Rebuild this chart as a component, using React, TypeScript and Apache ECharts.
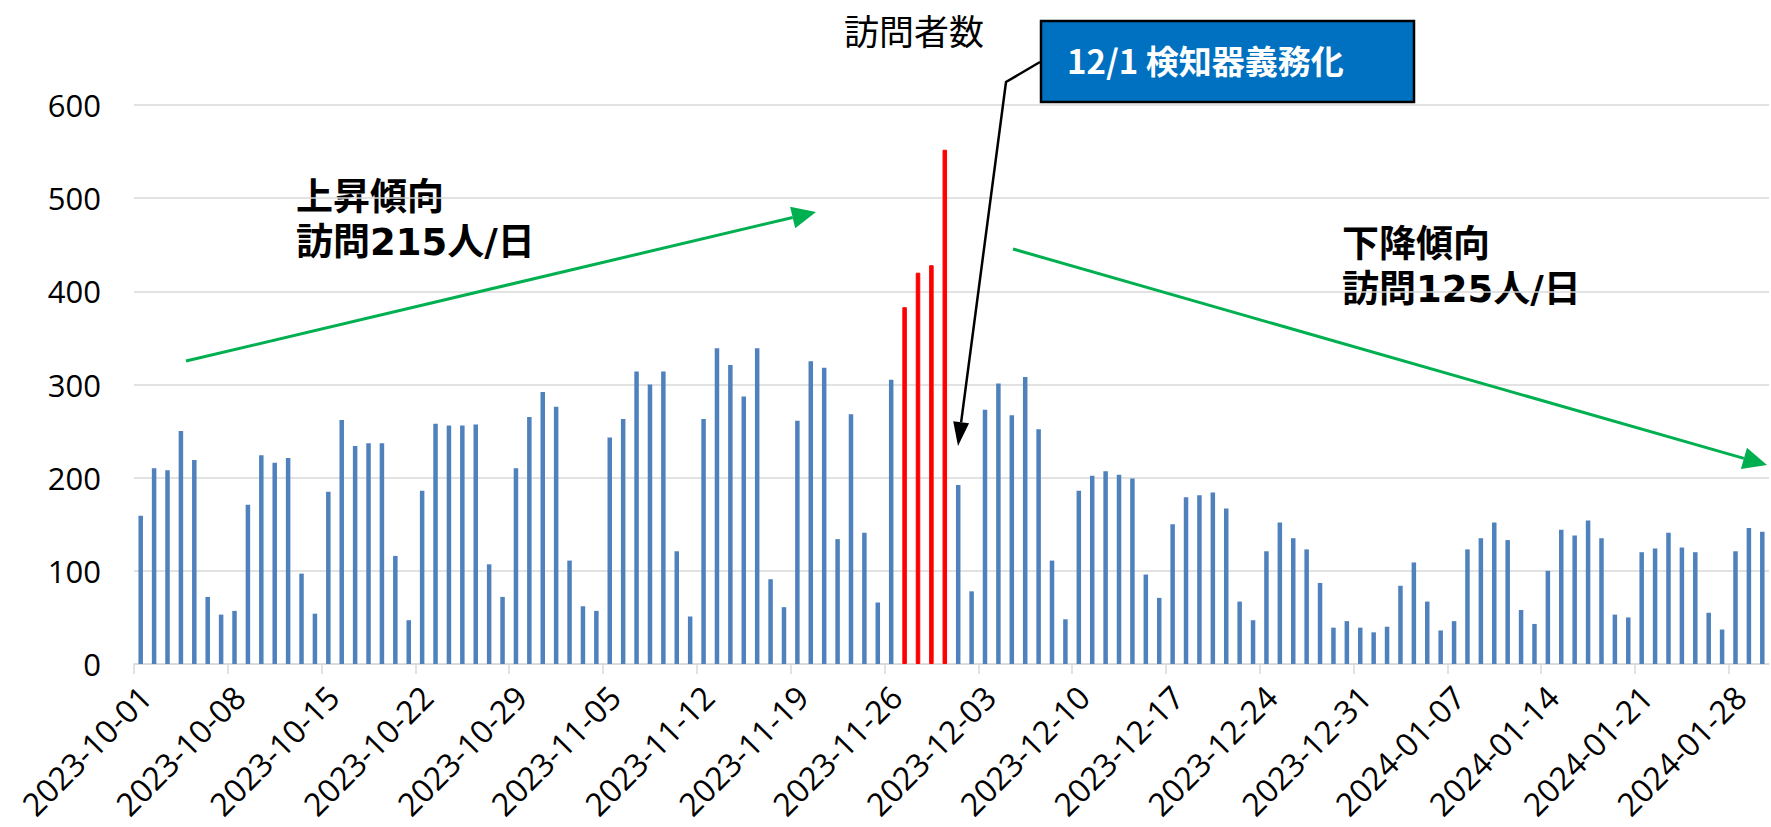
import React, { useEffect, useRef } from "react";
import * as echarts from "echarts";

const startDate = "2023-10-01";
const visitors = [
  159, 210, 208, 250, 219, 72, 53, 57, 171, 224, 216, 221, 97, 54, 185, 262, 234, 237, 237, 116,
  47, 186, 258, 256, 256, 257, 107, 72, 210, 265, 292, 276, 111, 62, 57, 243, 263, 314, 300, 314,
  121, 51, 263, 339, 321, 287, 339, 91, 61, 261, 325, 318, 134, 268, 141, 66, 305, 383, 420, 428,
  552, 192, 78, 273, 301, 267, 308, 252, 111, 48, 186, 202, 207, 203, 199, 96, 71, 150, 179, 181,
  184, 167, 67, 47, 121, 152, 135, 123, 87, 39, 46, 39, 34, 40, 84, 109, 67, 36, 46, 123,
  135, 152, 133, 58, 43, 100, 144, 138, 154, 135, 53, 50, 120, 124, 141, 125, 120, 55, 37, 121,
  146, 142,
];
const highlightDates = ["2023-11-27", "2023-11-28", "2023-11-29", "2023-11-30"];
const yTicks = [0, 100, 200, 300, 400, 500, 600];
const titleText = "訪問者数";
const calloutText = "12/1 検知器義務化";
const upText = "上昇傾向\n訪問215人/日";
const downText = "下降傾向\n訪問125人/日";

const DAY = 86400000;
const start = Date.parse(startDate + "T00:00:00Z");
const dates = visitors.map((_, i) => new Date(start + i * DAY).toISOString().slice(0, 10));

const MIXED_BOLD = "'DejaVu Sans', 'Noto Sans CJK JP', sans-serif";

function arrowHead(sx: number, sy: number, tx: number, ty: number, L: number, W: number) {
  const dx = tx - sx, dy = ty - sy;
  const len = Math.sqrt(dx * dx + dy * dy);
  const ux = dx / len, uy = dy / len;
  const nx = -uy, ny = ux;
  const bx = tx - ux * L, by = ty - uy * L;
  return {
    base: [bx, by],
    points: [
      [tx, ty],
      [bx + (nx * W) / 2, by + (ny * W) / 2],
      [bx - (nx * W) / 2, by - (ny * W) / 2],
    ],
  };
}

function arrow(sx: number, sy: number, tx: number, ty: number, color: string, lw: number, L: number, W: number) {
  const h = arrowHead(sx, sy, tx, ty, L, W);
  return [
    { type: "line", shape: { x1: sx, y1: sy, x2: h.base[0], y2: h.base[1] }, style: { stroke: color, lineWidth: lw }, z: 10 },
    { type: "polygon", shape: { points: h.points }, style: { fill: color }, z: 10 },
  ];
}

export default function App() {
  const ref = useRef<HTMLDivElement>(null);
  useEffect(() => {
    if (!ref.current) return;
    const chart = echarts.init(ref.current, undefined, { renderer: "svg" });
    const n = visitors.length;
    const blackHead = arrowHead(1006, 82, 958, 446, 24, 16);
    chart.setOption({
      animation: false,
      backgroundColor: "#ffffff",
      grid: { left: 134, right: 2, top: 105, bottom: 163, containLabel: false },
      xAxis: {
        type: "value",
        min: 0,
        max: n,
        interval: 7,
        axisLine: { show: true, lineStyle: { color: "#D9D9D9", width: 1.5 } },
        axisTick: { show: true, length: 10, lineStyle: { color: "#D9D9D9", width: 1.5 } },
        splitLine: { show: false },
        axisLabel: {
          rotate: 45,
          margin: 16,
          align: "right",
          verticalAlign: "top",
          showMaxLabel: false,
          fontFamily: "Open Sans",
          fontSize: 32,
          color: "#000000",
          formatter: (v: number) => (v % 7 === 0 && v < n ? dates[v] : ""),
        },
      },
      yAxis: {
        type: "value",
        min: yTicks[0],
        max: yTicks[yTicks.length - 1],
        interval: 100,
        axisLine: { show: false },
        axisTick: { show: false },
        splitLine: { lineStyle: { color: "#D9D9D9", width: 1.5 } },
        axisLabel: { margin: 33, fontFamily: "Open Sans", fontSize: 31, color: "#000000" },
      },
      series: [
        {
          type: "bar",
          barWidth: 4.5,
          data: visitors.map((v, i) => {
            const hi = highlightDates.includes(dates[i]);
            return {
              value: [i + 0.5, v],
              itemStyle: hi
                ? { color: "#FF0000", borderColor: "#FF0000", borderWidth: 1 }
                : { color: "#4F81BD" },
            };
          }),
        },
      ],
      graphic: [
        {
          type: "text",
          x: 914,
          y: 29,
          style: { text: titleText, fontFamily: "Noto Sans CJK JP", fontSize: 35, fill: "#000", align: "center", verticalAlign: "middle" },
        },
        {
          type: "rect",
          shape: { x: 1041, y: 21, width: 373, height: 81 },
          style: { fill: "#0070C0", stroke: "#000000", lineWidth: 2.5 },
          z: 20,
        },
        {
          type: "text",
          x: 1067,
          y: 60,
          z: 21,
          style: { text: calloutText, fontFamily: "Noto Sans CJK JP", fontWeight: "bold", fontSize: 33, fill: "#ffffff", align: "left", verticalAlign: "middle" },
        },
        {
          type: "polyline",
          shape: { points: [[1040, 62], [1006, 82], blackHead.base] },
          style: { stroke: "#000000", lineWidth: 2.5, fill: null },
          z: 15,
        },
        { type: "polygon", shape: { points: blackHead.points }, style: { fill: "#000000" }, z: 15 },
        ...arrow(186, 361, 816, 212, "#00B050", 3, 24, 22),
        ...arrow(1013, 249, 1767, 465, "#00B050", 3, 24, 22),
        {
          type: "text",
          x: 296,
          y: 220,
          style: { text: upText, fontFamily: MIXED_BOLD, fontWeight: "bold", fontSize: 37, lineHeight: 45, fill: "#000", align: "left", verticalAlign: "middle" },
        },
        {
          type: "text",
          x: 1342,
          y: 267,
          style: { text: downText, fontFamily: MIXED_BOLD, fontWeight: "bold", fontSize: 37, lineHeight: 45, fill: "#000", align: "left", verticalAlign: "middle" },
        },
      ],
    });
    return () => chart.dispose();
  }, []);
  return <div ref={ref} style={{ position: "fixed", left: 0, top: 0, width: 1771, height: 827 }} />;
}
